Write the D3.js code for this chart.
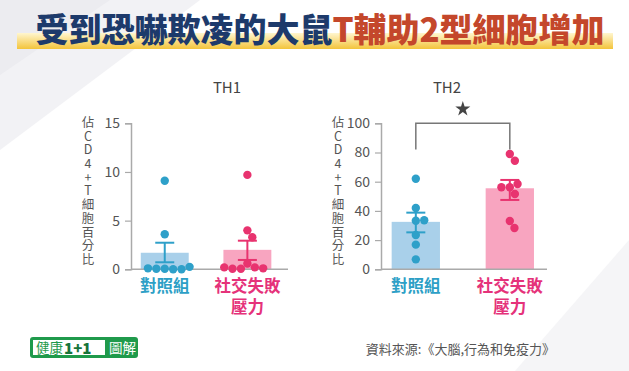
<!DOCTYPE html>
<html>
<head>
<meta charset="utf-8">
<script src="https://cdn.jsdelivr.net/npm/d3@7"></script>
<style>
  body { margin: 0; background: #fff; }
  svg text { font-family: "Noto Sans CJK TC", "Noto Sans", sans-serif; }
  .vlab { writing-mode: vertical-rl; text-orientation: upright; }
</style>
</head>
<body>
<div id="chart"></div>
<script>
// data
var groups = ["對照組", "社交失敗壓力"];
var th1Means = [1.7, 2.0];
var th1ErrLow = [0.72, 0.96];
var th1ErrHigh = [2.73, 2.94];
var th1Control = [9.1, 3.6, 0.05, 0.0, 0.05, 0.0, 0.1, 0.25];
var th1Stress = [9.7, 4.0, 3.3, 0.6, 0.2, 0.05, 0.05, 0.1, 0.2];
var th2Means = [32.5, 55.5];
var th2ErrLow = [25.3, 47.5];
var th2ErrHigh = [38.8, 61.2];
var th2Control = [62, 42, 33.3, 33.6, 23.5, 16.9, 6.8];
var th2Stress = [79, 74.4, 56.2, 58.4, 56.2, 51.6, 33.1, 28.3];
var th1Ticks = [0, 5, 10, 15];
var th2Ticks = [0, 20, 40, 60, 80, 100];
var yLabel = "佔CD4+T細胞百分比";

var width = 629, height = 371;
var dotColors = ["#2ea0c9", "#e8336f"];
var barColors = ["#a9d0ea", "#f8a5c0"];
var labelColors = ["#2d9fc6", "#e5327a"];

var svg = d3.select("#chart").append("svg")
    .attr("width", width).attr("height", height);

// background shapes
svg.append("path").attr("d", "M0,0 L200,0 L0,150 Z").attr("fill", "#f2f2f5");
svg.append("path").attr("d", "M0,0 L110,0 L0,75 Z").attr("fill", "#ececf0");
svg.append("path").attr("d", "M629,240 L629,371 L515,371 Z").attr("fill", "#f5f5f7");

// title underline
var defs = svg.append("defs");
var grad = defs.append("linearGradient").attr("id", "ybar")
    .attr("x1", 0).attr("y1", 0).attr("x2", 0).attr("y2", 1);
grad.append("stop").attr("offset", "0%").attr("stop-color", "#fff6cf");
grad.append("stop").attr("offset", "100%").attr("stop-color", "#f3c43b");
svg.append("rect").attr("x", 17).attr("y", 33).attr("width", 596).attr("height", 16)
    .attr("fill", "url(#ybar)");

var title = svg.append("text")
    .attr("x", 320).attr("y", 42)
    .attr("text-anchor", "middle")
    .attr("font-size", 33).attr("font-weight", 900);
title.append("tspan").attr("fill", "#1d3a6b").text("受到恐嚇欺凌的大鼠");
title.append("tspan").attr("fill", "#c4472b").text("T輔助2型細胞增加");

// simple beeswarm: offset each dot sideways until it clears the others
function swarm(values, y, r) {
  var placed = [];
  values.forEach(function(v) {
    var py = y(v);
    var cands = [0];
    placed.forEach(function(p) {
      var dy = Math.abs(p.y - py);
      if (dy < 2 * r) {
        var dx = Math.sqrt(4 * r * r - dy * dy);
        cands.push(p.x + dx, p.x - dx);
      }
    });
    cands.sort(function(a, b) { return Math.abs(a) - Math.abs(b) || b - a; });
    var x = cands.find(function(c) {
      return placed.every(function(p) {
        return Math.hypot(p.x - c, p.y - py) >= 2 * r - 0.01;
      });
    });
    placed.push({ x: x, y: py, v: v });
  });
  return placed;
}

function panel(opt) {
  var g = svg.append("g");
  var y = d3.scaleLinear().domain([0, opt.max]).range([269.3, 123.3]);
  var x = d3.scaleBand().domain(groups).range([opt.left, opt.right])
      .paddingInner(opt.pi).paddingOuter(opt.po).align(opt.align);

  // panel title
  g.append("text").attr("x", opt.titleX).attr("y", 93)
      .attr("text-anchor", "middle").attr("font-size", 15)
      .attr("fill", "#444").text(opt.title);

  // stacked y label, one vertical text
  g.append("text").attr("class", "vlab")
      .attr("x", opt.left - 43).attr("y", 116)
      .attr("font-size", 12.5).attr("letter-spacing", 1.2)
      .attr("fill", "#555").text(yLabel);

  // bars
  g.selectAll(".bar").data(groups).enter().append("rect")
      .attr("x", function(d) { return x(d); })
      .attr("width", x.bandwidth())
      .attr("y", function(d, i) { return y(opt.means[i]); })
      .attr("height", function(d, i) { return y(0) - y(opt.means[i]); })
      .attr("fill", function(d, i) { return barColors[i]; });

  // axes
  var yAxis = d3.axisLeft(y).tickValues(opt.ticks).tickSize(6).tickPadding(5);
  var ya = g.append("g").attr("transform", "translate(" + opt.left + ",0)").call(yAxis);
  ya.select(".domain").attr("stroke", "#aaa").attr("stroke-width", 1.5);
  ya.selectAll(".tick line").attr("stroke", "#aaa").attr("stroke-width", 1.2);
  ya.selectAll(".tick text").attr("font-size", 14).attr("fill", "#555")
      .attr("font-family", "'Open Sans', sans-serif");
  g.append("line").attr("x1", opt.left).attr("x2", opt.right)
      .attr("y1", y(0)).attr("y2", y(0))
      .attr("stroke", "#aaa").attr("stroke-width", 1.5);

  // dots
  [opt.control, opt.stress].forEach(function(vals, i) {
    var cx = x(groups[i]) + x.bandwidth() / 2;
    var pts = swarm(vals, y, 4.2);
    g.selectAll(".dot" + i).data(pts).enter().append("circle")
        .attr("cx", function(d) { return cx + d.x; })
        .attr("cy", function(d) { return d.y; })
        .attr("r", 4.2)
        .attr("fill", dotColors[i]);
  });

  // error bars
  groups.forEach(function(gName, i) {
    var cx = x(gName) + x.bandwidth() / 2;
    var eg = g.append("g").attr("stroke", dotColors[i]).attr("stroke-width", 2);
    eg.append("line").attr("x1", cx).attr("x2", cx)
        .attr("y1", y(opt.errLow[i])).attr("y2", y(opt.errHigh[i]));
    [opt.errLow[i], opt.errHigh[i]].forEach(function(v) {
      eg.append("line").attr("x1", cx - 9.5).attr("x2", cx + 9.5)
          .attr("y1", y(v)).attr("y2", y(v));
    });
  });

  // group labels (second group wraps onto two lines)
  groups.forEach(function(gName, i) {
    var cx = x(gName) + x.bandwidth() / 2;
    var lines = i === 0 ? [gName] : [gName.slice(0, 4), gName.slice(4)];
    var t = g.append("text").attr("x", cx).attr("y", 292)
        .attr("text-anchor", "middle").attr("font-size", 16.5)
        .attr("font-weight", 600)
        .attr("fill", labelColors[i]);
    lines.forEach(function(s, k) {
      t.append("tspan").attr("x", cx).attr("dy", k === 0 ? 0 : 21).text(s);
    });
  });

  return { g: g, x: x, y: y };
}

var p1 = panel({
  title: "TH1", titleX: 227, left: 131, right: 288, max: 15,
  pi: 0.42, po: 0.16, align: 0.37, ticks: th1Ticks,
  means: th1Means, errLow: th1ErrLow, errHigh: th1ErrHigh,
  control: th1Control, stress: th1Stress
});

var p2 = panel({
  title: "TH2", titleX: 447, left: 381, right: 547, max: 100,
  pi: 0.486, po: 0.126, align: 0.45, ticks: th2Ticks,
  means: th2Means, errLow: th2ErrLow, errHigh: th2ErrHigh,
  control: th2Control, stress: th2Stress
});

// significance bracket
var bx1 = p2.x(groups[0]) + p2.x.bandwidth() / 2;
var bx2 = p2.x(groups[1]) + p2.x.bandwidth() / 2;
p2.g.append("path")
    .attr("d", "M" + bx1 + "," + p2.y(82) + " V" + p2.y(100) + " H" + bx2 + " V" + p2.y(82))
    .attr("fill", "none").attr("stroke", "#777").attr("stroke-width", 1.5);
p2.g.append("path")
    .attr("d", d3.symbol().type(d3.symbolStar).size(70)())
    .attr("transform", "translate(" + ((bx1 + bx2) / 2) + ",109)")
    .attr("fill", "#444");

// logo
var logo = svg.append("g").attr("transform", "translate(30,337)");
logo.append("rect").attr("width", 108).attr("height", 21).attr("rx", 3).attr("fill", "#1f9a4b");
logo.append("rect").attr("x", 3).attr("y", 3).attr("width", 72).attr("height", 15).attr("fill", "#fff");
logo.append("text").attr("x", 6).attr("y", 16).attr("font-size", 13.5).attr("fill", "#1f9a4b")
    .text("健康");
logo.append("text").attr("x", 34).attr("y", 16.5).attr("font-size", 15).attr("font-weight", 900)
    .attr("fill", "#17743a").text("1+1");
logo.append("text").attr("x", 79).attr("y", 16).attr("font-size", 13.5).attr("fill", "#fff")
    .text("圖解");

// source
svg.append("text").attr("x", 555).attr("y", 354).attr("text-anchor", "end")
    .attr("font-size", 13).attr("fill", "#555")
    .text("資料來源:《大腦,行為和免疫力》");
</script>
</body>
</html>
